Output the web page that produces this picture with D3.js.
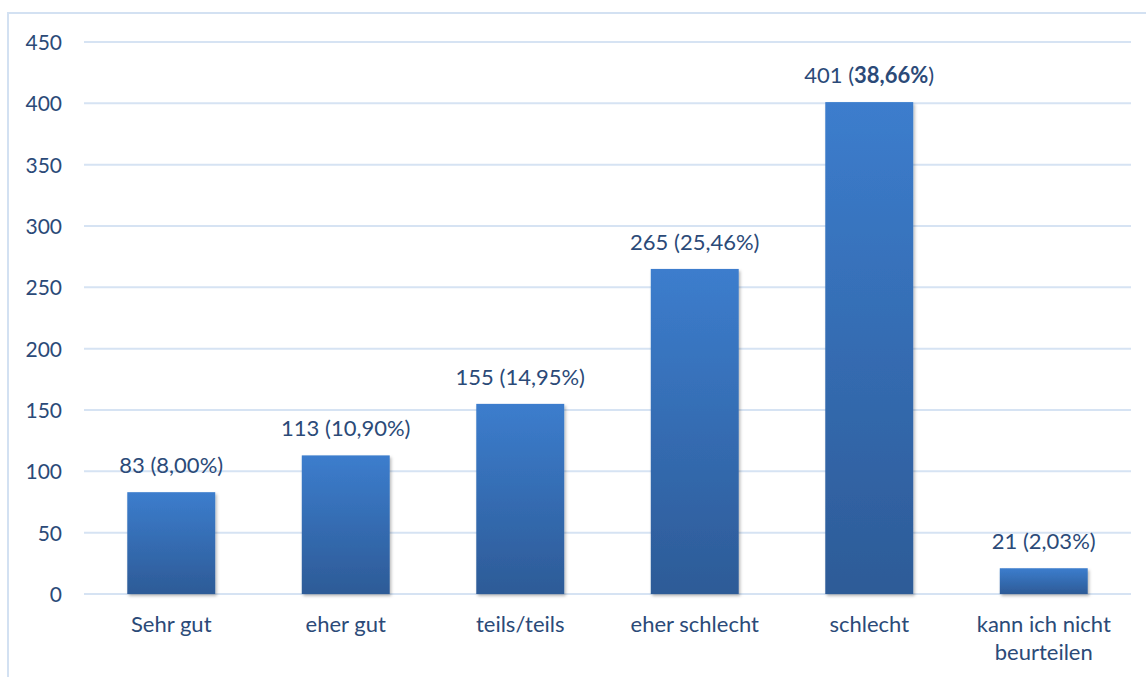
<!DOCTYPE html>
<html>
<head>
<meta charset="utf-8">
<script src="https://cdn.jsdelivr.net/npm/d3@7"></script>
<style>
  html, body { margin: 0; padding: 0; background: #ffffff; }
  svg { display: block; }
  text { font-family: Lato, "Open Sans", sans-serif; fill: #2b4a78; }
</style>
</head>
<body>
<svg id="chart" width="1146" height="677"></svg>
<script>
// Antworten je Kategorie: Anzahl und Anteil
const categories = ["Sehr gut", "eher gut", "teils/teils", "eher schlecht", "schlecht", "kann ich nicht beurteilen"];
const counts = [83, 113, 155, 265, 401, 21];
const shares = ["8,00%", "10,90%", "14,95%", "25,46%", "38,66%", "2,03%"];
const boldShare = [false, false, false, false, true, false];
const yTicks = [0, 50, 100, 150, 200, 250, 300, 350, 400, 450];
const categoryLines = [["Sehr gut"], ["eher gut"], ["teils/teils"], ["eher schlecht"], ["schlecht"], ["kann ich nicht", "beurteilen"]];

const svg = d3.select("#chart");
const W = 1146, H = 677;

// Rahmen (oben und links sichtbar)
svg.append("path")
  .attr("d", `M8,${H} L8,13 L${W},13`)
  .attr("fill", "none")
  .attr("stroke", "#d3e1f2")
  .attr("stroke-width", 2);

const x = d3.scaleBand().domain(categories).range([84, 1131]).paddingInner(0.496).paddingOuter(0.248);
const y = d3.scaleLinear().domain([0, 450]).range([594, 42]);

const defs = svg.append("defs");
const grad = defs.append("linearGradient").attr("id", "barGrad")
  .attr("x1", 0).attr("y1", 0).attr("x2", 0).attr("y2", 1);
grad.append("stop").attr("offset", "0%").attr("stop-color", "#3c7dcd");
grad.append("stop").attr("offset", "100%").attr("stop-color", "#2d5b97");

const shadow = defs.append("filter").attr("id", "barShadow")
  .attr("x", "-10%").attr("y", "-10%").attr("width", "130%").attr("height", "130%");
shadow.append("feDropShadow").attr("dx", 1.5).attr("dy", 2).attr("stdDeviation", 1.6)
  .attr("flood-color", "#000").attr("flood-opacity", 0.28);

// Gitterlinien
svg.append("g").selectAll("line").data(yTicks).join("line")
  .attr("x1", 84).attr("x2", 1131)
  .attr("y1", d => y(d)).attr("y2", d => y(d))
  .attr("stroke", "#d6e3f3").attr("stroke-width", 2);

// Y-Achse
const yAxis = svg.append("g").attr("transform", "translate(62,0)")
  .call(d3.axisLeft(y).tickValues(yTicks).tickSize(0).tickPadding(0));
yAxis.select(".domain").remove();
yAxis.selectAll("text")
  .attr("font-size", 21).attr("font-family", "Lato, sans-serif")
  .attr("fill", "#2b4a78").attr("dy", "0.35em");

// Balken
svg.append("g").selectAll("rect").data(counts).join("rect")
  .attr("x", (d, i) => x(categories[i]))
  .attr("width", x.bandwidth())
  .attr("y", d => y(d))
  .attr("height", d => y(0) - y(d))
  .attr("fill", "url(#barGrad)")
  .attr("filter", "url(#barShadow)");

// Wertbeschriftungen
const labels = svg.append("g").selectAll("text").data(counts).join("text")
  .attr("x", (d, i) => x(categories[i]) + x.bandwidth() / 2)
  .attr("y", d => y(d) - 19)
  .attr("text-anchor", "middle")
  .attr("font-size", 22);
labels.append("tspan").text((d, i) => `${d} (`);
labels.append("tspan").attr("font-weight", (d, i) => boldShare[i] ? 700 : 400).text((d, i) => shares[i]);
labels.append("tspan").text(")");

// Kategorienbeschriftungen
const cat = svg.append("g").selectAll("text").data(categories).join("text")
  .attr("text-anchor", "middle")
  .attr("font-size", 22)
  .attr("transform", d => `translate(${x(d) + x.bandwidth() / 2},632)`);
cat.selectAll("tspan").data((d, i) => categoryLines[i]).join("tspan")
  .attr("x", 0).attr("y", (d, j) => j * 28).text(d => d);
</script>
</body>
</html>
